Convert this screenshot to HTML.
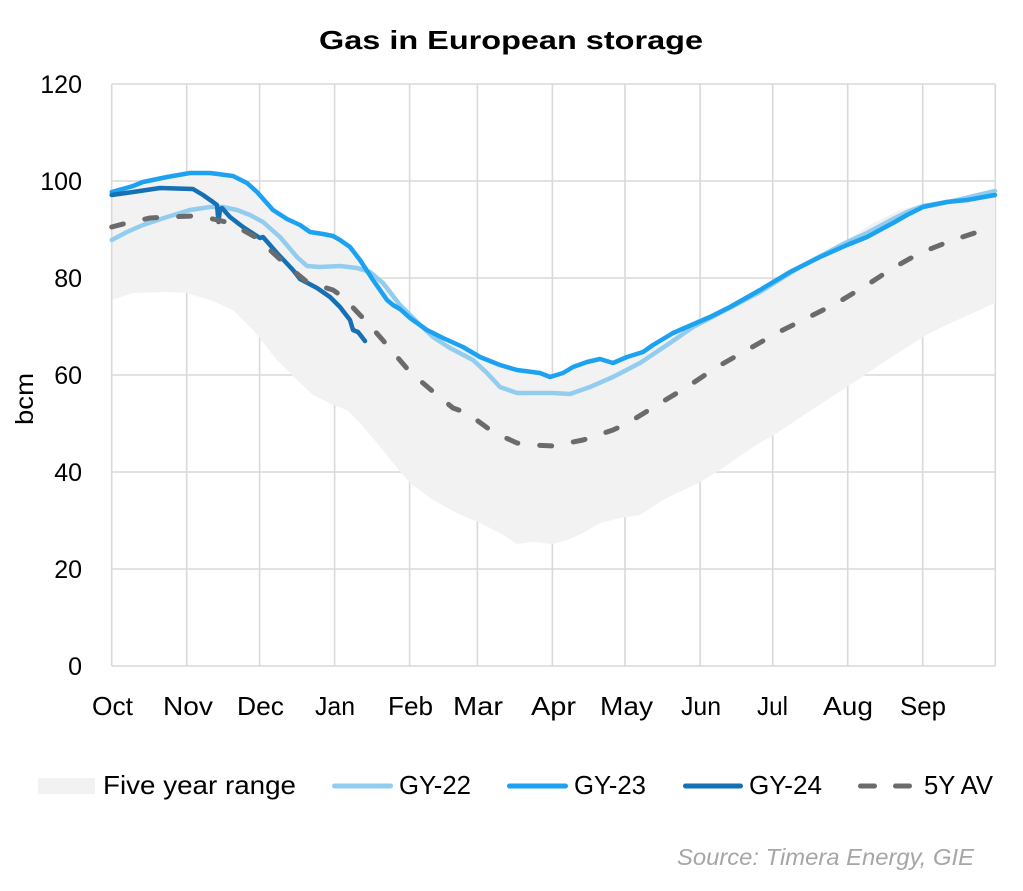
<!DOCTYPE html>
<html>
<head>
<meta charset="utf-8">
<style>
html,body{margin:0;padding:0;background:#fff;}
svg{display:block;}
text{font-family:"Liberation Sans",sans-serif;fill:#000;}
</style>
</head>
<body>
<svg width="1023" height="891" viewBox="0 0 1023 891" xmlns="http://www.w3.org/2000/svg">
<rect x="0" y="0" width="1023" height="891" fill="#fff"/>

<!-- Title -->
<text x="511" y="49" text-anchor="middle" font-size="26" font-weight="bold" textLength="384" lengthAdjust="spacingAndGlyphs">Gas in European storage</text>

<!-- Gridlines -->
<g stroke="#d9d9d9" stroke-width="1.6" fill="none">
  <line x1="111.7" y1="84" x2="995.3" y2="84"/>
  <line x1="111.7" y1="181" x2="995.3" y2="181"/>
  <line x1="111.7" y1="278" x2="995.3" y2="278"/>
  <line x1="111.7" y1="375" x2="995.3" y2="375"/>
  <line x1="111.7" y1="472" x2="995.3" y2="472"/>
  <line x1="111.7" y1="569" x2="995.3" y2="569"/>
  <line x1="186.7" y1="84" x2="186.7" y2="666"/>
  <line x1="259.6" y1="84" x2="259.6" y2="666"/>
  <line x1="334.6" y1="84" x2="334.6" y2="666"/>
  <line x1="409.6" y1="84" x2="409.6" y2="666"/>
  <line x1="477.4" y1="84" x2="477.4" y2="666"/>
  <line x1="552.4" y1="84" x2="552.4" y2="666"/>
  <line x1="625.0" y1="84" x2="625.0" y2="666"/>
  <line x1="700.1" y1="84" x2="700.1" y2="666"/>
  <line x1="772.7" y1="84" x2="772.7" y2="666"/>
  <line x1="847.7" y1="84" x2="847.7" y2="666"/>
  <line x1="922.7" y1="84" x2="922.7" y2="666"/>
  <line x1="995.3" y1="84" x2="995.3" y2="666"/>
</g>

<!-- Five year range band -->
<polygon fill="#f2f2f2" points="
111.7,190 133,185 143,181 167,176 190,172 210,172 233,175 247,182 257,191 273,209 287,218 300,224 310,231 323,233 333,235 340,239 350,246 357,252 362,262 370,271 383,282 400,304 417,320 433,335 450,345 463,346 480,356 500,364 517,369 540,372 550,375 563,372 573,366 587,361 600,358 613,362 627,356 643,351 653,344 673,332 700,318 710,314 730,304 760,288 790,269 820,254 847,240 873,223 900,210 923,204 953,200 995,189
995,303 973,313 940,328 923,337 887,360 847,387 807,413 777,433 753,447 720,470 700,482 663,500 640,515 620,518 600,523 583,533 567,540 553,544 533,542 517,544 500,533 480,523 457,513 433,500 410,483 393,463 377,443 360,423 347,410 333,405 313,395 297,380 277,360 253,330 233,310 210,300 187,293 167,292 133,293 111.7,300"/>

<!-- Axes -->
<g stroke="#d9d9d9" stroke-width="1.6">
  <line x1="111.7" y1="84" x2="111.7" y2="666"/>
  <line x1="111.7" y1="666" x2="995.3" y2="666"/>
</g>

<!-- GY-22 -->
<polyline fill="none" stroke="#92cdf0" stroke-width="4.5" stroke-linejoin="round" stroke-linecap="round" points="
111.7,240 127,232 143,225 167,217 190,210 210,207 223,207 237,210 250,215 263,222 280,237 297,257 307,266 320,267 340,266 357,268 370,272 383,283 400,305 417,322 433,337 450,348 473,360 487,373 500,387 517,393 540,393 553,393 570,394 590,387 613,377 640,363 670,343 693,327 720,313 760,292 800,267 847,242 867,233 893,219 907,212 923,206 953,201 995,191"/>

<!-- GY-23 -->
<polyline fill="none" stroke="#1ca2f1" stroke-width="4.5" stroke-linejoin="round" stroke-linecap="round" points="
111.7,192 133,186 143,182 167,177 190,173 210,173 233,176 247,183 257,192 273,210 287,219 300,225 310,232 323,234 333,236 340,240 350,247 360,260 373,280 387,300 393,305 400,309 410,318 427,330 443,338 463,347 480,357 500,365 517,370 540,373 550,377 563,373 573,367 587,362 600,359 613,363 627,357 643,352 653,345 673,333 710,317 730,307 760,290 790,272 820,257 847,245 867,237 893,223 907,215 923,207 947,202 967,200 995,195"/>

<!-- GY-24 -->
<polyline fill="none" stroke="#1570b5" stroke-width="4.5" stroke-linejoin="round" stroke-linecap="round" points="
111.7,195 133,192 160,188 193,189 203,195 213,202 217,205 218.5,222 220,209 222,208 230,217 243,227 260,238 263,237 277,253 293,270 300,279 317,288 330,297 340,307 350,320 353,330 358,332 365,341"/>

<!-- 5Y AV -->
<polyline fill="none" stroke="#6b6b6b" stroke-width="5" stroke-linejoin="round" stroke-linecap="round" stroke-dasharray="12 22" points="
111.7,227 127,223 150,218 167,217 193,216 213,219 230,223 257,238 283,262 307,282 333,290 343,297 360,315 367,322 387,345 410,372 437,395 453,408 467,413 493,432 517,443 533,445 553,446 583,440 613,430 628,423 657,405 687,387 717,367 747,350 777,333 807,318 837,303 867,285 893,268 920,253 953,240 993,227"/>

<!-- Y labels -->
<g font-size="25" text-anchor="end">
  <text x="82" y="93">120</text>
  <text x="82" y="190">100</text>
  <text x="82" y="287">80</text>
  <text x="82" y="384">60</text>
  <text x="82" y="481">40</text>
  <text x="82" y="578">20</text>
  <text x="82" y="675">0</text>
</g>
<text transform="translate(33,399) rotate(-90)" text-anchor="middle" font-size="25" textLength="52" lengthAdjust="spacingAndGlyphs">bcm</text>

<!-- X labels -->
<g font-size="26" text-anchor="middle">
  <text x="112.5" y="715" textLength="41" lengthAdjust="spacingAndGlyphs">Oct</text>
  <text x="188" y="715" textLength="50" lengthAdjust="spacingAndGlyphs">Nov</text>
  <text x="260.5" y="715" textLength="47" lengthAdjust="spacingAndGlyphs">Dec</text>
  <text x="335" y="715" textLength="40" lengthAdjust="spacingAndGlyphs">Jan</text>
  <text x="410.5" y="715" textLength="45" lengthAdjust="spacingAndGlyphs">Feb</text>
  <text x="478" y="715" textLength="50" lengthAdjust="spacingAndGlyphs">Mar</text>
  <text x="553.5" y="715" textLength="45" lengthAdjust="spacingAndGlyphs">Apr</text>
  <text x="626.5" y="715" textLength="53" lengthAdjust="spacingAndGlyphs">May</text>
  <text x="701" y="715" textLength="40" lengthAdjust="spacingAndGlyphs">Jun</text>
  <text x="772.5" y="715" textLength="31" lengthAdjust="spacingAndGlyphs">Jul</text>
  <text x="848" y="715" textLength="50" lengthAdjust="spacingAndGlyphs">Aug</text>
  <text x="923" y="715" textLength="46" lengthAdjust="spacingAndGlyphs">Sep</text>
</g>

<!-- Legend -->
<rect x="38" y="778" width="57" height="16" fill="#f2f2f2"/>
<text x="103" y="794" font-size="26" textLength="193" lengthAdjust="spacingAndGlyphs">Five year range</text>
<line x1="334.5" y1="786" x2="390.5" y2="786" stroke="#92cdf0" stroke-width="5" stroke-linecap="round"/>
<text x="399" y="794" font-size="26" textLength="72" lengthAdjust="spacingAndGlyphs">GY-22</text>
<line x1="509.5" y1="786" x2="565.5" y2="786" stroke="#1ca2f1" stroke-width="5" stroke-linecap="round"/>
<text x="574" y="794" font-size="26" textLength="72" lengthAdjust="spacingAndGlyphs">GY-23</text>
<line x1="685.5" y1="786" x2="740.5" y2="786" stroke="#1570b5" stroke-width="5" stroke-linecap="round"/>
<text x="749" y="794" font-size="26" textLength="73" lengthAdjust="spacingAndGlyphs">GY-24</text>
<line x1="860.5" y1="786" x2="909.5" y2="786" stroke="#6b6b6b" stroke-width="5" stroke-linecap="round" stroke-dasharray="14 21"/>
<text x="924" y="794" font-size="26" textLength="69" lengthAdjust="spacingAndGlyphs">5Y AV</text>

<!-- Source -->
<text x="677" y="865" font-size="23" font-style="italic" style="fill:#a6a6a6" textLength="297" lengthAdjust="spacingAndGlyphs">Source: Timera Energy, GIE</text>
</svg>
</body>
</html>
